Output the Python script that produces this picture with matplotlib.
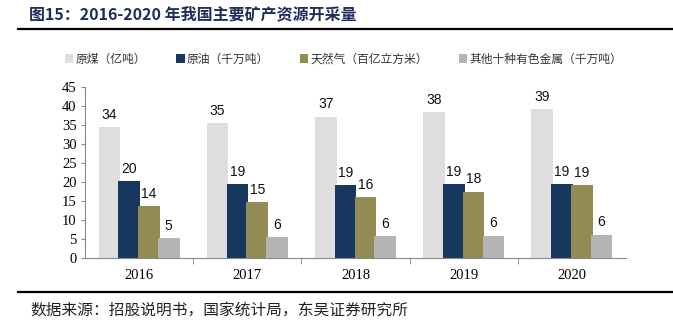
import numpy as np
import matplotlib.pyplot as plt
from matplotlib.lines import Line2D
from matplotlib.patches import Patch

plt.rcParams['font.family'] = ['Noto Sans CJK SC', 'DejaVu Sans']

# data
years = ['2016', '2017', '2018', '2019', '2020']
coal = [34.4, 35.4, 37.2, 38.4, 39.1]        # 原煤（亿吨）
crude = [20.3, 19.4, 19.1, 19.4, 19.4]       # 原油（千万吨）
gas = [13.7, 14.7, 16.0, 17.5, 19.2]         # 天然气（百亿立方米）
metals = [5.3, 5.5, 5.8, 5.9, 6.1]           # 其他十种有色金属（千万吨）

series_names = ['原煤（亿吨）', '原油（千万吨）', '天然气（百亿立方米）', '其他十种有色金属（千万吨）']
series = [coal, crude, gas, metals]
colors = ['#DEDEDE', '#17375E', '#948A54', '#B4B4B4']

fig = plt.figure(figsize=(6.73, 3.24), dpi=100)
ax = fig.add_axes([85 / 673, 1 - 258 / 324, (626 - 85) / 673, (258 - 87) / 324])

x = np.arange(len(years))
width = 0.2
step = 0.183
offsets = (np.arange(4) - 1.5) * step

for vals, off, col in zip(series, offsets, colors):
    bars = ax.bar(x + off, vals, width, color=col, zorder=2)
    for b, v in zip(bars, vals):
        ax.text(b.get_x() + b.get_width() / 2, v + 1.4, f'{v:.0f}',
                ha='center', va='bottom', fontsize=10, family='Liberation Sans', color='#111111')

ax.set_xlim(-0.5, len(years) - 0.5)
ax.set_ylim(0, 45)
ax.set_yticks(np.arange(0, 46, 5))
ax.set_yticklabels([str(v) for v in range(0, 46, 5)], family='Liberation Serif', fontsize=10.5)
ax.set_xticks(x)
ax.set_xticklabels(years, family='Liberation Serif', fontsize=10.5)
ax.set_xticks(np.arange(0.5, len(years) - 0.5, 1), minor=True)
ax.tick_params(axis='x', which='major', length=0, pad=8)
ax.tick_params(axis='x', which='minor', length=4, direction='out', color='#888888')
ax.tick_params(axis='y', length=3, color='#888888', pad=3)
for s in ['top', 'right']:
    ax.spines[s].set_visible(False)
ax.spines['left'].set_color('#888888')
ax.spines['bottom'].set_color('#888888')

handles = [Patch(facecolor=c, edgecolor='none') for c in colors]
fig.legend(handles, series_names, loc='center left', bbox_to_anchor=(54 / 673, 1 - 59 / 324),
           ncol=4, frameon=False, fontsize=8.5, handlelength=0.7, handleheight=0.7,
           handletextpad=0.2, columnspacing=2.6, labelcolor='#333333')

# title, rules and source
fig.text(29 / 673, 1 - 14 / 324, '图15：2016-2020 年我国主要矿产资源开采量', fontsize=11.5,
         fontweight='bold', color='#1F2D5A', va='center', ha='left')
fig.add_artist(Line2D([18 / 673, 1], [1 - 29 / 324] * 2, color='black', lw=1.6))
fig.add_artist(Line2D([18 / 673, 1], [1 - 292 / 324] * 2, color='black', lw=1.6))
fig.text(30 / 673, 1 - 310 / 324, '数据来源：招股说明书，国家统计局，东吴证券研究所', fontsize=11.3,
         color='#222222', va='center', ha='left')

fig.savefig('out.png', dpi=100)
